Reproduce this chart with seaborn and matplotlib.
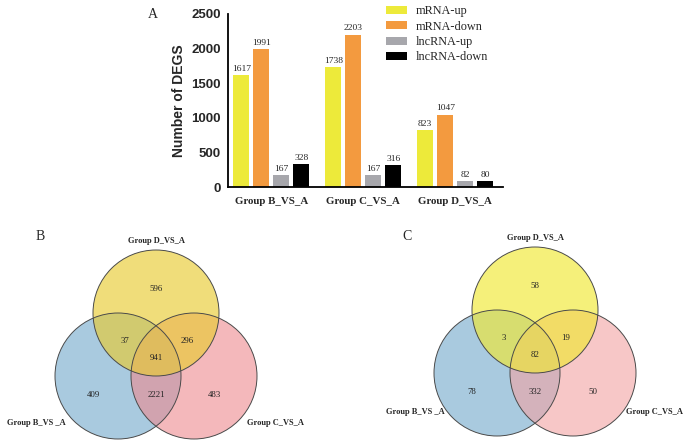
import matplotlib
matplotlib.use("Agg")
import matplotlib.pyplot as plt
from matplotlib.patches import Circle
import seaborn as sns
import pandas as pd

# bar chart data
groups = ["Group B_VS_A", "Group C_VS_A", "Group D_VS_A"]
deg_types = ["mRNA-up", "mRNA-down", "lncRNA-up", "lncRNA-down"]
mrna_up = [1617, 1738, 823]
mrna_down = [1991, 2203, 1047]
lnc_up = [167, 167, 82]
lnc_down = [328, 316, 80]
bar_colors = ["#EDEA3A", "#F39A3F", "#A7A7AC", "#000000"]

# venn counts: D only, B&D, C&D, all, B only, B&C, C only
venn_mrna = [596, 37, 296, 941, 409, 2221, 483]
venn_lnc = [58, 3, 19, 82, 78, 332, 50]
venn_names = ["Group D_VS_A", "Group B_VS _A", "Group C_VS_A"]

df = pd.DataFrame({
    "group": groups * 4,
    "type": [t for t in deg_types for _ in groups],
    "count": mrna_up + mrna_down + lnc_up + lnc_down,
})

sns.set_style("white")
serif = ["Liberation Serif", "DejaVu Serif"]
sans = ["Liberation Sans", "DejaVu Sans"]

W, H = 685, 442
fig = plt.figure(figsize=(W / 100, H / 100), dpi=100)

# overlay axes in pixel units for the venn panels
av = fig.add_axes([0, 0, 1, 1])
av.set_xlim(0, W)
av.set_ylim(H, 0)
av.set_axis_off()


def draw_venn(ax, cx, cy, counts, cols, name_y, r=63):
    # blue (B), pink (C), then yellow (D) on top
    ax.add_patch(Circle((cx - 38, cy + 63), r, facecolor=cols[1], alpha=0.6, lw=0))
    ax.add_patch(Circle((cx + 38, cy + 63), r, facecolor=cols[2], alpha=0.6, lw=0))
    ax.add_patch(Circle((cx, cy), r, facecolor=cols[0], alpha=0.65, lw=0))
    for c in [(cx - 38, cy + 63), (cx + 38, cy + 63), (cx, cy)]:
        ax.add_patch(Circle(c, r, facecolor="none", edgecolor="#4a4a4a", lw=0.7))
    offs = [(0, -24), (-31, 28), (31, 28), (0, 45), (-63, 82), (0, 82), (58, 82)]
    for (dx, dy), v in zip(offs, counts):
        ax.text(cx + dx, cy + dy, str(v), ha="center", va="center",
                fontsize=6.3, family=serif, color="#222222")
    ax.text(cx, cy - 72, venn_names[0], ha="center", va="center",
            fontsize=6, family=serif, weight="bold")
    ax.text(cx - 120, name_y, venn_names[1], ha="center", va="center",
            fontsize=6, family=serif, weight="bold")
    ax.text(cx + 119, name_y, venn_names[2], ha="center", va="center",
            fontsize=6, family=serif, weight="bold")


draw_venn(av, 156, 313, venn_mrna, ["#E8CB33", "#71A8CB", "#ED898F"], 423)
draw_venn(av, 535, 310, venn_lnc, ["#F0E833", "#71A8CB", "#F2A3A3"], 412)

av.text(153, 15, "A", fontsize=10, family=serif, ha="center", va="center")
av.text(40, 236, "B", fontsize=10, family=serif, ha="center", va="center")
av.text(407, 237, "C", fontsize=10, family=serif, ha="center", va="center")

# bar chart
ax = fig.add_axes([228 / W, 1 - 187 / H, 275 / W, 173 / H])
sns.barplot(data=df, x="group", y="count", hue="type", hue_order=deg_types,
            palette=bar_colors, width=0.87, gap=0.22, ax=ax, saturation=1,
            linewidth=0)
for cont in ax.containers:
    ax.bar_label(cont, fontsize=6.8, family=serif, padding=1.5)

ax.set_ylim(0, 2500)
ax.set_xlim(-0.47, 2.52)
ax.set_yticks([0, 500, 1000, 1500, 2000, 2500])
ax.set_xlabel("")
ax.set_ylabel("Number of DEGS", fontsize=10, family=sans, weight="bold", labelpad=4)
for s in ["top", "right"]:
    ax.spines[s].set_visible(False)
for s in ["left", "bottom"]:
    ax.spines[s].set_linewidth(1.3)
    ax.spines[s].set_color("black")
ax.tick_params(axis="both", direction="out", length=4, width=1.3, color="black")
ax.tick_params(axis="y", pad=1)
for lab in ax.get_yticklabels():
    lab.set_fontproperties({"family": sans, "weight": "bold", "size": 9.5})
for lab in ax.get_xticklabels():
    lab.set_fontproperties({"family": serif, "weight": "bold", "size": 7.8})

leg = ax.legend(loc="upper left", bbox_to_anchor=(0.575, 1.05), frameon=False,
                prop={"family": serif, "size": 8.8}, handlelength=1.7,
                handleheight=0.6, labelspacing=0.27, handletextpad=0.72,
                borderpad=0, borderaxespad=0)

fig.savefig("out.png", dpi=100)
